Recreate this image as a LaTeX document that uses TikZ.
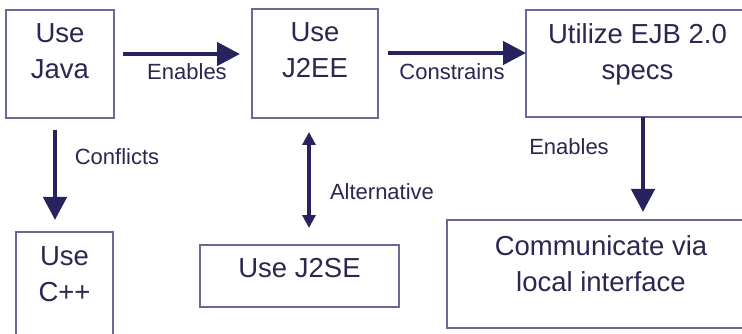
\documentclass[tikz,border=0pt]{standalone}
\usepackage{fontspec}
\setmainfont{Liberation Sans}
\usetikzlibrary{arrows.meta,calc}
\definecolor{inkText}{HTML}{2A2750}
\definecolor{inkArrow}{HTML}{28235F}
\definecolor{inkFrame}{HTML}{6A6896}
\tikzset{
  box/.style={draw=inkFrame, line width=1.6pt, fill=white, rectangle,
    anchor=north west, inner sep=0pt, outer sep=0pt},
  boxtext/.style={text=inkText, font=\fontsize{27.5pt}{36pt}\selectfont,
    align=center, inner sep=0pt, anchor=north},
  tag/.style={text=inkText, font=\fontsize{22pt}{26pt}\selectfont,
    inner sep=0pt, anchor=base},
  bigarrow/.style={draw=inkArrow, line width=4.5pt,
    -{Triangle[width=23pt,length=23pt]}},
  duoarrow/.style={draw=inkArrow, line width=4pt,
    {Triangle[width=13pt,length=13pt]}-{Triangle[width=13pt,length=13pt]}},
}
\begin{document}
\begin{tikzpicture}[x=1pt,y=-1pt]
\useasboundingbox (0,0) rectangle (742,334);
\clip (0,0) rectangle (742,334);
\fill[white] (0,0) rectangle (742,334);

% decision boxes
\node[box, minimum width=108pt, minimum height=108pt] (java) at (6,10) {};
\node[box, minimum width=126pt, minimum height=109pt] (j2ee) at (252,9) {};
\node[box, minimum width=223pt, minimum height=107pt] (ejb) at (526,10) {};
\node[box, minimum width=97pt, minimum height=110pt] (cpp) at (16,232) {};
\node[box, minimum width=199pt, minimum height=62pt] (j2se) at (200,245) {};
\node[box, minimum width=308pt, minimum height=108pt] (comm) at (447,220) {};

% box captions
\node[boxtext] (java-t) at ($(java.north)+(0,13)$) {Use\\Java};
\node[boxtext] (j2ee-t) at ($(j2ee.north)+(0,13)$) {Use\\J2EE};
\node[boxtext] (ejb-t) at ($(ejb.north)+(0,13)$) {Utilize EJB 2.0\\specs};
\node[boxtext] (cpp-t) at ($(cpp.north)+(0,14)$) {Use\\C++};
\node[boxtext] (j2se-t) at ($(j2se.north)+(0,13)$) {Use J2SE};
\node[boxtext] (comm-t) at ($(comm.north)+(0,15)$) {Communicate via\\local interface};

% relations
\draw[bigarrow] ($(java.north east)+(9,44)$) -- ($(j2ee.north west)+(-12,45)$);
\draw[bigarrow] ($(j2ee.north east)+(10,44)$) -- ($(ejb.north west)+(0,43)$);
\draw[bigarrow] ($(java.south west)+(49,12)$) -- ($(cpp.north west)+(39,-12)$);
\draw[duoarrow] ($(j2ee.south west)+(57,14)$) -- ($(j2se.north west)+(109,-17)$);
\draw[bigarrow] ($(ejb.south west)+(117,0)$) -- ($(comm.north west)+(196,-8)$);

% relation labels
\node[tag] (l-enables) at (187,80) {Enables};
\node[tag] (l-constrains) at (452,80) {Constrains};
\node[tag] (l-conflicts) at (117,165) {Conflicts};
\node[tag] (l-alternative) at (382,200) {Alternative};
\node[tag] (l-enables2) at (569,155) {Enables};
\end{tikzpicture}
\end{document}
